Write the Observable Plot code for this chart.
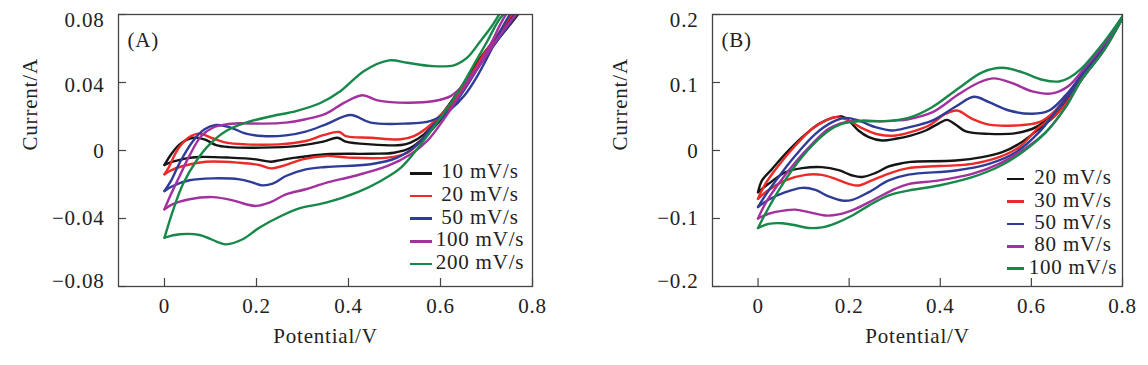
<!DOCTYPE html>
<html><head><meta charset="utf-8">
<script src="https://cdn.jsdelivr.net/npm/d3@7"></script>
<script src="https://cdn.jsdelivr.net/npm/@observablehq/plot@0.6"></script>
<style>
body{margin:0;background:#fff;}
#wrap{position:relative;width:1148px;height:365px;display:flex;}
.legend{position:absolute;font-family:"Liberation Serif",serif;font-size:21px;letter-spacing:0.8px;color:#222;}
.row{display:flex;align-items:center;}
.sw{display:inline-block;height:2.6px;}
.lbl{display:inline-block;text-align:center;white-space:nowrap;position:relative;top:-1.5px;}
</style></head>
<body><div id="wrap"></div>
<script>
// ---------- shared ----------
const colors = ["#151515", "#ec2a27", "#2e3c98", "#a3309f", "#17884a"];
const xTicks = [0, 0.2, 0.4, 0.6, 0.8];
const xTickLabels = ["0", "0.2", "0.4", "0.6", "0.8"];
const xLabel = "Potential/V";
const yLabel = "Current/A";

// ---------- panel A ----------
const labelsA = ["10 mV/s", "20 mV/s", "50 mV/s", "100 mV/s", "200 mV/s"];
const yTicksA = [-0.08, -0.04, 0, 0.04, 0.08];
const yTickLabelsA = ["\u22120.08", "\u22120.04", "0", "0.04", "0.08"];

const a10Fwd = [[0,-0.0085],[0.0145,-0.0022],[0.033,0.0036],[0.062,0.0075],[0.087,0.0066],[0.112,0.0032],[0.141,0.002],[0.213,0.0017],[0.286,0.0026],[0.345,0.0052],[0.376,0.0075],[0.394,0.0052],[0.448,0.0036],[0.514,0.0032],[0.535,0.0046],[0.564,0.0095],[0.600,0.0203],[0.644,0.0369],[0.687,0.0546],[0.730,0.0693],[0.76,0.080],[0.8,0.094]];
const a10Rev = [[0.8,0.092],[0.76,0.077],[0.73,0.067],[0.687,0.052],[0.644,0.034],[0.600,0.018],[0.571,0.0095],[0.535,0.0016],[0.499,-0.0013],[0.448,-0.0019],[0.351,-0.0022],[0.286,-0.0042],[0.249,-0.0058],[0.231,-0.0066],[0.199,-0.0052],[0.141,-0.0042],[0.076,-0.0038],[0.047,-0.0046],[0.018,-0.0066],[0,-0.0085]];
const a20Fwd = [[0,-0.014],[0.009,-0.0101],[0.029,0.0007],[0.054,0.0079],[0.076,0.0099],[0.101,0.0075],[0.134,0.0046],[0.177,0.0036],[0.249,0.0036],[0.307,0.0056],[0.345,0.009],[0.380,0.0109],[0.394,0.0085],[0.448,0.0075],[0.514,0.0066],[0.542,0.0085],[0.571,0.0134],[0.615,0.0252],[0.658,0.0409],[0.694,0.0566],[0.730,0.0703],[0.76,0.082],[0.8,0.097]];
const a20Rev = [[0.8,0.093],[0.76,0.078],[0.73,0.068],[0.69,0.054],[0.65,0.037],[0.615,0.023],[0.586,0.0154],[0.557,0.0056],[0.528,-0.0013],[0.485,-0.0042],[0.40,-0.0042],[0.351,-0.0032],[0.300,-0.0052],[0.264,-0.0085],[0.231,-0.0105],[0.206,-0.0085],[0.163,-0.0072],[0.090,-0.0066],[0.040,-0.0091],[0.014,-0.0117],[0,-0.014]];
const a50Fwd = [[0,-0.0238],[0.014,-0.0179],[0.033,-0.0072],[0.062,0.0056],[0.087,0.0125],[0.112,0.015],[0.141,0.0138],[0.177,0.0099],[0.213,0.0085],[0.264,0.0089],[0.307,0.0111],[0.351,0.0154],[0.405,0.0209],[0.448,0.0164],[0.521,0.0158],[0.579,0.0174],[0.622,0.0242],[0.651,0.032],[0.680,0.0438],[0.709,0.0585],[0.730,0.0703],[0.76,0.084],[0.8,0.10]];
const a50Rev = [[0.8,0.094],[0.76,0.078],[0.73,0.067],[0.69,0.052],[0.65,0.035],[0.615,0.022],[0.586,0.0154],[0.550,0.0036],[0.506,-0.0042],[0.448,-0.0081],[0.351,-0.0097],[0.307,-0.0111],[0.264,-0.015],[0.235,-0.0195],[0.213,-0.0205],[0.192,-0.0189],[0.163,-0.017],[0.105,-0.0164],[0.054,-0.0175],[0.018,-0.0209],[0,-0.0238]];
const a100Fwd = [[0,-0.0346],[0.014,-0.0258],[0.033,-0.015],[0.054,-0.0032],[0.080,0.0085],[0.105,0.0134],[0.134,0.0154],[0.163,0.016],[0.213,0.0158],[0.264,0.0164],[0.307,0.0184],[0.351,0.0217],[0.39,0.028],[0.430,0.0325],[0.463,0.0295],[0.528,0.0281],[0.586,0.0291],[0.622,0.032],[0.651,0.039],[0.680,0.0487],[0.709,0.0625],[0.730,0.0742],[0.76,0.088],[0.8,0.105]];
const a100Rev = [[0.8,0.095],[0.76,0.079],[0.73,0.068],[0.69,0.052],[0.65,0.036],[0.607,0.0183],[0.571,0.0056],[0.535,-0.0022],[0.485,-0.0091],[0.412,-0.0150],[0.351,-0.019],[0.307,-0.0228],[0.264,-0.0258],[0.228,-0.0307],[0.199,-0.0326],[0.177,-0.0316],[0.148,-0.0293],[0.105,-0.0274],[0.054,-0.0287],[0.018,-0.0316],[0,-0.0346]];
const a200Fwd = [[0,-0.0513],[0.018,-0.0356],[0.040,-0.0199],[0.069,-0.0062],[0.098,0.0036],[0.134,0.0115],[0.177,0.0164],[0.235,0.0203],[0.286,0.0232],[0.340,0.0281],[0.383,0.035],[0.434,0.0468],[0.488,0.053],[0.528,0.0516],[0.579,0.0497],[0.629,0.0501],[0.658,0.0546],[0.687,0.0644],[0.709,0.0722],[0.723,0.078],[0.75,0.09],[0.8,0.108]];
const a200Rev = [[0.8,0.10],[0.76,0.086],[0.73,0.078],[0.702,0.0644],[0.673,0.0507],[0.644,0.0369],[0.600,0.0193],[0.557,0.0036],[0.514,-0.0101],[0.470,-0.0179],[0.42,-0.0245],[0.351,-0.0307],[0.293,-0.034],[0.249,-0.0391],[0.206,-0.0454],[0.170,-0.0522],[0.134,-0.0552],[0.119,-0.0542],[0.076,-0.0497],[0.033,-0.0493],[0,-0.0513]];

// ---------- panel B ----------
const labelsB = ["20 mV/s", "30 mV/s", "50 mV/s", "80 mV/s", "100 mV/s"];
const yTicksB = [-0.2, -0.1, 0, 0.1, 0.2];
const yTickLabelsB = ["\u22120.2", "\u22120.1", "0", "0.1", "0.2"];

const b20Fwd = [[0,-0.0613],[0.0087,-0.044],[0.031,-0.027],[0.060,-0.005],[0.097,0.0196],[0.133,0.039],[0.163,0.048],[0.184,0.050],[0.199,0.044],[0.221,0.029],[0.243,0.0196],[0.272,0.0147],[0.302,0.0172],[0.335,0.022],[0.368,0.0294],[0.397,0.040],[0.415,0.045],[0.434,0.038],[0.456,0.028],[0.507,0.0245],[0.566,0.0255],[0.610,0.0343],[0.653,0.0588],[0.683,0.084],[0.709,0.110],[0.76,0.155],[0.8,0.197]];
const b20Rev = [[0.8,0.195],[0.76,0.15],[0.709,0.105],[0.68,0.075],[0.653,0.052],[0.617,0.032],[0.573,0.0098],[0.536,-0.0025],[0.492,-0.0098],[0.434,-0.0147],[0.335,-0.0167],[0.317,-0.0186],[0.287,-0.0235],[0.258,-0.033],[0.228,-0.039],[0.207,-0.0368],[0.177,-0.029],[0.140,-0.0245],[0.097,-0.026],[0.060,-0.032],[0.023,-0.049],[0,-0.0613]];
const b30Fwd = [[0,-0.071],[0.016,-0.049],[0.045,-0.022],[0.082,0.0074],[0.119,0.032],[0.148,0.044],[0.170,0.049],[0.199,0.044],[0.228,0.033],[0.265,0.0235],[0.302,0.022],[0.335,0.027],[0.375,0.0368],[0.412,0.054],[0.437,0.0588],[0.470,0.0466],[0.507,0.038],[0.566,0.0368],[0.617,0.0416],[0.653,0.0588],[0.683,0.083],[0.709,0.109],[0.76,0.155],[0.8,0.197]];
const b30Rev = [[0.8,0.195],[0.76,0.15],[0.709,0.104],[0.68,0.073],[0.65,0.05],[0.617,0.0343],[0.573,0.0049],[0.529,-0.0098],[0.470,-0.0196],[0.33,-0.026],[0.287,-0.034],[0.250,-0.044],[0.221,-0.0515],[0.199,-0.049],[0.170,-0.0417],[0.140,-0.0358],[0.104,-0.0358],[0.060,-0.044],[0.023,-0.058],[0,-0.071]];
const b50Fwd = [[0,-0.083],[0.016,-0.066],[0.045,-0.039],[0.082,-0.0074],[0.126,0.0245],[0.163,0.0417],[0.192,0.048],[0.221,0.044],[0.258,0.0343],[0.294,0.0294],[0.33,0.034],[0.382,0.044],[0.434,0.0647],[0.474,0.079],[0.507,0.071],[0.551,0.0588],[0.602,0.054],[0.639,0.0588],[0.675,0.081],[0.709,0.110],[0.76,0.155],[0.8,0.197]];
const b50Rev = [[0.8,0.195],[0.76,0.15],[0.709,0.104],[0.661,0.0637],[0.617,0.027],[0.566,-0.0025],[0.507,-0.0196],[0.434,-0.0294],[0.33,-0.0355],[0.287,-0.044],[0.243,-0.0613],[0.207,-0.0725],[0.184,-0.0735],[0.155,-0.0676],[0.126,-0.058],[0.097,-0.0549],[0.060,-0.0613],[0.023,-0.0725],[0,-0.083]];
const b80Fwd = [[0,-0.100],[0.016,-0.078],[0.045,-0.049],[0.082,-0.0172],[0.119,0.0098],[0.155,0.032],[0.192,0.0417],[0.228,0.044],[0.272,0.043],[0.302,0.044],[0.33,0.046],[0.382,0.056],[0.441,0.083],[0.485,0.100],[0.518,0.106],[0.558,0.099],[0.602,0.087],[0.646,0.084],[0.683,0.0956],[0.709,0.115],[0.76,0.157],[0.8,0.197]];
const b80Rev = [[0.8,0.195],[0.76,0.148],[0.709,0.103],[0.675,0.0637],[0.632,0.027],[0.580,0],[0.529,-0.0196],[0.470,-0.0343],[0.397,-0.044],[0.33,-0.0495],[0.302,-0.056],[0.258,-0.071],[0.214,-0.0858],[0.177,-0.094],[0.148,-0.0956],[0.111,-0.0907],[0.082,-0.087],[0.060,-0.088],[0.023,-0.093],[0,-0.100]];
const b100Fwd = [[0,-0.114],[0.016,-0.093],[0.045,-0.059],[0.082,-0.022],[0.119,0.0074],[0.155,0.029],[0.184,0.039],[0.221,0.043],[0.272,0.043],[0.33,0.048],[0.382,0.0637],[0.441,0.092],[0.492,0.115],[0.536,0.1216],[0.580,0.115],[0.624,0.104],[0.661,0.1015],[0.683,0.107],[0.709,0.120],[0.76,0.16],[0.8,0.197]];
const b100Rev = [[0.8,0.195],[0.76,0.148],[0.709,0.103],[0.675,0.0637],[0.632,0.027],[0.580,-0.0025],[0.529,-0.0235],[0.470,-0.0392],[0.397,-0.0515],[0.33,-0.059],[0.287,-0.066],[0.243,-0.081],[0.207,-0.0956],[0.170,-0.107],[0.140,-0.113],[0.111,-0.114],[0.082,-0.110],[0.053,-0.107],[0.023,-0.108],[0,-0.114]];

// ---------- build rows ----------
function rows(labels, branches) {
  const out = [];
  labels.forEach((s, k) => {
    branches[k].forEach((arr, b) => {
      arr.forEach(([v, i]) => out.push({series: s, key: s + "|" + b, v, i}));
    });
  });
  return out;
}
const dataA = rows(labelsA, [[a10Fwd,a10Rev],[a20Fwd,a20Rev],[a50Fwd,a50Rev],[a100Fwd,a100Rev],[a200Fwd,a200Rev]]);
const dataB = rows(labelsB, [[b20Fwd,b20Rev],[b30Fwd,b30Rev],[b50Fwd,b50Rev],[b80Fwd,b80Rev],[b100Fwd,b100Rev]]);

const font = {fontFamily: "'Liberation Serif', serif", fontSize: "21px", letterSpacing: "0.8px", color: "#222", background: "white", overflow: "visible"};
// the y tick labels of the original sit slightly inward of their ticks at the ends
const yLabelShift = [-5, -0.5, 0.5, 2.5, 6];

function panel({data, labels, yTicks, yTickLabels, tag, width, marginLeft, marginRight, yDomain}) {
  const marginTop = 14, marginBottom = 79, height = 365;
  const frameW = width - marginLeft - marginRight;
  const frameH = height - marginTop - marginBottom;
  return Plot.plot({
    width, height, marginLeft, marginRight, marginTop, marginBottom,
    style: font,
    x: {domain: [-0.1, 0.8], label: null},
    y: {domain: yDomain, label: null},
    color: {domain: labels, range: colors},
    marks: [
      Plot.line(data, {x: "v", y: "i", z: "key", stroke: "series", curve: "catmull-rom", strokeWidth: 2.4, clip: true}),
      Plot.frame({stroke: "#444", strokeWidth: 1.3}),
      Plot.tickX(xTicks, {x: d => d, insetTop: frameH - 8, stroke: "#444", strokeWidth: 1.2}),
      Plot.tickY(yTicks, {y: d => d, insetRight: frameW - 8, stroke: "#444", strokeWidth: 1.2}),
      Plot.axisX(xTicks, {tickSize: 0, tickPadding: 12, tickFormat: (d) => xTickLabels[xTicks.indexOf(d)], label: null}),
      ...yTicks.map((t, k) => Plot.axisY([t], {tickSize: 0, tickPadding: 14, dy: yLabelShift[k], tickFormat: () => yTickLabels[k], label: null})),
      Plot.text([yLabel], {frameAnchor: "left", dx: -(marginLeft - 30), rotate: -90}),
      Plot.text([xLabel], {frameAnchor: "bottom", dy: 56}),
      Plot.text([tag], {frameAnchor: "top-left", dx: 9, dy: 18, textAnchor: "start"})
    ]
  });
}

const wrap = document.getElementById("wrap");
wrap.append(panel({data: dataA, labels: labelsA, yTicks: yTicksA, yTickLabels: yTickLabelsA, tag: "(A)", width: 590, marginLeft: 118, marginRight: 58, yDomain: [-0.08, 0.08]}));
wrap.append(panel({data: dataB, labels: labelsB, yTicks: yTicksB, yTickLabels: yTickLabelsB, tag: "(B)", width: 558, marginLeft: 122, marginRight: 26, yDomain: [-0.2, 0.2]}));

function legend(labels, {left, top, rowH, swW, lblW}) {
  const d = document.createElement("div");
  d.className = "legend";
  d.style.left = left + "px";
  d.style.top = top + "px";
  labels.forEach((s, k) => {
    const r = document.createElement("div");
    r.className = "row";
    r.style.height = rowH + "px";
    const sw = document.createElement("span");
    sw.className = "sw";
    sw.style.width = swW + "px";
    sw.style.background = colors[k];
    const t = document.createElement("span");
    t.className = "lbl";
    t.style.width = lblW + "px";
    t.textContent = s;
    r.append(sw, t);
    d.append(r);
  });
  wrap.append(d);
}
legend(labelsA, {left: 410, top: 162, rowH: 22.7, swW: 22, lblW: 96});
legend(labelsB, {left: 1007, top: 168, rowH: 22.4, swW: 17, lblW: 98});
</script>
</body></html>
